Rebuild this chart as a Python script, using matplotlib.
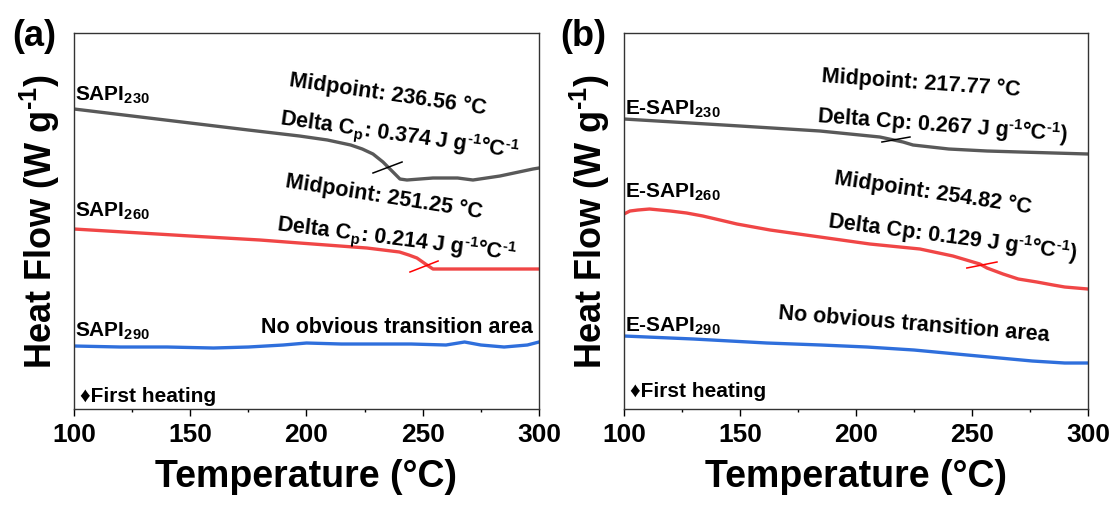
import matplotlib
matplotlib.use("Agg")
import matplotlib.pyplot as plt
from matplotlib.ticker import MultipleLocator

plt.rcParams['font.family'] = ['Liberation Sans', 'DejaVu Sans']
plt.rcParams['font.weight'] = 'bold'
plt.rcParams['mathtext.fontset'] = 'custom'
plt.rcParams['mathtext.rm'] = 'Liberation Sans:bold'
plt.rcParams['mathtext.it'] = 'Liberation Sans:bold'
plt.rcParams['mathtext.bf'] = 'Liberation Sans:bold'
plt.rcParams['mathtext.default'] = 'rm'

# ---- data (heat flow in arbitrary, offset units) ----
# panel (a)
t_a230 = [100, 125, 150, 175, 197, 209, 219, 224, 228.6, 232.9, 237.2, 240.2, 243.2, 254.4, 265, 271.6, 283.2, 297.4, 300]
hf_a230 = [3.00, 2.93, 2.86, 2.79, 2.73, 2.69, 2.64, 2.60, 2.55, 2.47, 2.37, 2.30, 2.29, 2.31, 2.31, 2.29, 2.33, 2.40, 2.41]
t_a260 = [100, 150, 180, 197, 226, 240, 244, 247.5, 251.8, 254.4, 270, 300]
hf_a260 = [1.80, 1.73, 1.69, 1.66, 1.61, 1.57, 1.54, 1.51, 1.44, 1.40, 1.40, 1.40]
t_a290 = [100, 120, 140, 160, 175, 190, 200, 215, 230, 245, 260, 268, 275, 285, 295, 300]
hf_a290 = [0.63, 0.62, 0.62, 0.61, 0.62, 0.64, 0.66, 0.65, 0.65, 0.65, 0.64, 0.67, 0.64, 0.62, 0.64, 0.67]
tan_a230 = ([228.6, 241.1], [2.36, 2.47])
tan_a260 = ([244.5, 256.6], [1.37, 1.48])

# panel (b)
t_b230 = [100, 150, 184.5, 210.3, 220.3, 224.6, 240, 256.5, 270.7, 300]
hf_b230 = [2.90, 2.83, 2.78, 2.72, 2.67, 2.64, 2.60, 2.58, 2.57, 2.55]
t_b260 = [100, 102.6, 106, 111, 120, 127, 134, 141.4, 148.7, 163, 184.5, 206, 227.6,
          241.8, 253.4, 256.5, 263.4, 270, 278, 285, 290, 300]
hf_b260 = [1.95, 1.98, 1.99, 2.00, 1.98, 1.96, 1.93, 1.89, 1.85, 1.79, 1.72, 1.65, 1.60,
           1.53, 1.45, 1.41, 1.35, 1.30, 1.27, 1.24, 1.22, 1.20]
t_b290 = [100, 130, 161.6, 185, 204.7, 225, 248, 262, 276, 290, 300]
hf_b290 = [0.73, 0.70, 0.66, 0.64, 0.62, 0.59, 0.54, 0.51, 0.48, 0.46, 0.46]
tan_b230 = ([211.2, 223.3], [2.67, 2.72])
tan_b260 = ([247.8, 260.8], [1.41, 1.47])

sup = r'$^{\text{-1}}$'
names_a = ['SAPI$_{230}$', 'SAPI$_{260}$', 'SAPI$_{290}$']
names_b = ['E-SAPI$_{230}$', 'E-SAPI$_{260}$', 'E-SAPI$_{290}$']
mid_a = ['Midpoint: 236.56 °C', 'Midpoint: 251.25 °C']
dcp_a = ['Delta C$_{\\mathrm{p}}$: 0.374 J g' + sup + '°C' + sup,
         'Delta C$_{\\mathrm{p}}$: 0.214 J g' + sup + '°C' + sup]
mid_b = ['Midpoint: 217.77 °C', 'Midpoint: 254.82 °C']
dcp_b = ['Delta Cp: 0.267 J g' + sup + '°C' + sup + ')',
         'Delta Cp: 0.129 J g' + sup + '°C' + sup + ')']

GRAY = '#595959'
RED = '#f04646'
BLUE = '#2f6fdc'

fig = plt.figure(figsize=(11.18, 5.06), dpi=100)
ax1 = fig.add_axes([0.0662, 0.1897, 0.4159, 0.7431])
ax2 = fig.add_axes([0.5581, 0.1897, 0.4150, 0.7431])


def style(ax):
    ax.set_xlim(100, 300)
    ax.set_ylim(0, 3.76)
    ax.xaxis.set_major_locator(MultipleLocator(50))
    ax.xaxis.set_minor_locator(MultipleLocator(25))
    ax.tick_params(axis='x', which='major', direction='out', length=5, width=1,
                   labelsize=19, pad=4, top=False)
    ax.tick_params(axis='x', which='minor', direction='out', length=2.5, width=1, top=False)
    ax.set_yticks([])
    for s in ax.spines.values():
        s.set_linewidth(1.0)
        s.set_color('#333333')
    ax.set_xlabel('Temperature (°C)', fontsize=27, fontweight='bold')
    ax.xaxis.set_label_coords(0.5, -0.13)
    ax.set_ylabel('Heat Flow (W g' + sup + ')', fontsize=26, fontweight='bold')
    ax.yaxis.set_label_coords(-0.025, 0.5)


lw = 2.4
# ---- panel (a) ----
ax1.plot(t_a230, hf_a230, color=GRAY, lw=lw, solid_joinstyle='round')
ax1.plot(t_a260, hf_a260, color=RED, lw=lw, solid_joinstyle='round')
ax1.plot(t_a290, hf_a290, color=BLUE, lw=lw, solid_joinstyle='round')
ax1.plot(*tan_a230, color='black', lw=1.1)
ax1.plot(*tan_a260, color='red', lw=1.1)
style(ax1)

ax1.text(100.5, 3.09, names_a[0], fontsize=15, va='baseline')
ax1.text(100.5, 1.93, names_a[1], fontsize=15, va='baseline')
ax1.text(100.5, 0.73, names_a[2], fontsize=15, va='baseline')
ax1.text(235.0, 3.15, mid_a[0], fontsize=15.5, rotation=-8.2, rotation_mode='anchor', ha='center', va='center')
ax1.text(240.2, 2.75, dcp_a[0], fontsize=15.5, rotation=-8.0, rotation_mode='anchor', ha='center', va='center')
ax1.text(233.3, 2.13, mid_a[1], fontsize=15.5, rotation=-9.0, rotation_mode='anchor', ha='center', va='center')
ax1.text(238.9, 1.70, dcp_a[1], fontsize=15.5, rotation=-7.1, rotation_mode='anchor', ha='center', va='center')
ax1.text(297.4, 0.77, 'No obvious transition area', fontsize=15.5, ha='right', va='baseline')
ax1.text(102.4, 0.08, '\u2666First heating', fontsize=15, va='baseline')
fig.text(12 / 1118, 1 - 37 / 506, '(a)', fontsize=26, fontweight='bold', va='center', ha='left')

# ---- panel (b) ----
ax2.plot(t_b230, hf_b230, color=GRAY, lw=lw, solid_joinstyle='round')
ax2.plot(t_b260, hf_b260, color=RED, lw=lw, solid_joinstyle='round')
ax2.plot(t_b290, hf_b290, color=BLUE, lw=lw, solid_joinstyle='round')
ax2.plot(*tan_b230, color='black', lw=1.1)
ax2.plot(*tan_b260, color='red', lw=1.1)
style(ax2)

ax2.text(100.5, 2.95, names_b[0], fontsize=15, va='baseline')
ax2.text(100.5, 2.12, names_b[1], fontsize=15, va='baseline')
ax2.text(100.5, 0.78, names_b[2], fontsize=15, va='baseline')
ax2.text(228.0, 3.27, mid_b[0], fontsize=15.5, rotation=-4.0, rotation_mode='anchor', ha='center', va='center')
ax2.text(237.5, 2.84, dcp_b[0], fontsize=15.5, rotation=-4.3, rotation_mode='anchor', ha='center', va='center')
ax2.text(233.2, 2.17, mid_b[1], fontsize=15.5, rotation=-8.5, rotation_mode='anchor', ha='center', va='center')
ax2.text(241.8, 1.73, dcp_b[1], fontsize=15.5, rotation=-7.4, rotation_mode='anchor', ha='center', va='center')
ax2.text(225.0, 0.85, 'No obvious transition area', fontsize=15.5, rotation=-4.7, rotation_mode='anchor', ha='center', va='center')
ax2.text(102.4, 0.13, '\u2666First heating', fontsize=15, va='baseline')
fig.text(560 / 1118, 1 - 37 / 506, '(b)', fontsize=26, fontweight='bold', va='center', ha='left')

fig.savefig('out.png', dpi=100)
